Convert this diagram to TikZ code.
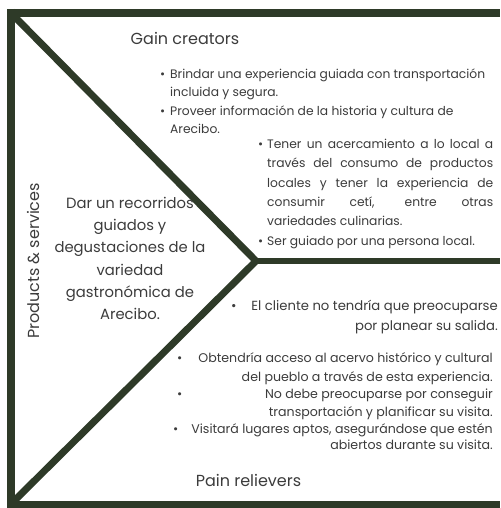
\documentclass[tikz,border=0pt]{standalone}
\usepackage{fontspec}
\setmainfont{Poppins}
\definecolor{frame}{HTML}{2E3A28}
\definecolor{txtgray}{HTML}{3C3C3C}
\begin{document}
\begin{tikzpicture}[x=1pt,y=-1pt,
  bar/.style={draw=frame,line width=#1,line cap=butt},
  txt/.style={text=txtgray,inner sep=0pt,anchor=base west,font=\fontsize{12.3}{14}\selectfont},
  txtr/.style={txt,anchor=base east},
  small/.style={font=\fontsize{12.6}{14}\selectfont},
  big/.style={font=\fontsize{13.2}{15}\selectfont},
  title/.style={text=txtgray,inner sep=0pt,anchor=base,font=\fontsize{16}{18}\selectfont},
  mid/.style={text=txtgray,inner sep=0pt,anchor=base,font=\fontsize{14.8}{17}\selectfont}]
\useasboundingbox[fill=white] (0,0) rectangle (500,508);
% frame
\draw[bar=8pt] (7,13) -- (500,13);
\draw[bar=8pt] (11,9) -- (11,508);
\draw[bar=7pt] (7,504.5) -- (500,504.5);
\draw[bar=7pt,line join=miter] (11,13) -- (256,261) -- (11,504);
\draw[bar=6pt] (254,261) -- (500,261);
% titles
\node[title] (gain) at (185,45) {Gain creators};
\node[title] (pain) at (248.5,486) {Pain relievers};
\node[title,rotate=90] (prod) at (39,261) {Products \& services};
% center text
\node[mid] (c1) at (130,208) {Dar un recorridos};
\node[mid] (c2) at (130,230) {guiados y};
\node[mid] (c3) at (130,252) {degustaciones de la};
\node[mid] (c4) at (130,275) {variedad};
\node[mid] (c5) at (130,297) {gastronómica de};
\node[mid] (c6) at (130,319) {Arecibo.};
% gain creators list 1
\node[txt] (g1b) at (160,78.5) {•};
\node[txt] (g1) at (170,78.5) {Brindar una experiencia guiada con transportación};
\node[txt] (g2) at (170,97) {incluida y segura.};
\node[txt] (g3b) at (160,115) {•};
\node[txt] (g3) at (170,115) {Proveer información de la historia y cultura de};
\node[txt] (g4) at (170,133) {Arecibo.};
% gain creators list 2
\node[txt] (h1b) at (258,148) {•};
\node[txt] (h1) at (267,148) {\makebox[226pt][s]{Tener un acercamiento a lo local a}};
\node[txt] (h2) at (267,167.5) {\makebox[226pt][s]{través del consumo de productos}};
\node[txt] (h3) at (267,187) {\makebox[226pt][s]{locales y tener la experiencia de}};
\node[txt] (h4) at (267,206) {\makebox[226pt][s]{consumir cetí, entre otras}};
\node[txt] (h5) at (267,225.5) {variedades culinarias.};
\node[txt] (h6b) at (258,245) {•};
\node[txt] (h6) at (267,245) {Ser guiado por una persona local.};
% pain relievers
\node[txt,big] (p1b) at (231,310) {•};
\node[txtr,big] (p1) at (498,310) {El cliente no tendría que preocuparse};
\node[txtr,big] (p2) at (498,330) {por planear su salida.};
\node[txt,small] (q1b) at (177,362) {•};
\node[txtr,small] (q1) at (493,362) {Obtendría acceso al acervo histórico y cultural};
\node[txtr,small] (q2) at (493,381) {del pueblo a través de esta experiencia.};
\node[txt,small] (q3b) at (177,398) {•};
\node[txtr,small] (q3) at (493,398) {No debe preocuparse por conseguir};
\node[txtr,small] (q4) at (493,416) {transportación y planificar su visita.};
\node[txt,small] (q5b) at (173,433) {•};
\node[txtr,small] (q5) at (493,433) {Visitará lugares aptos, asegurándose que estén};
\node[txtr,small] (q6) at (493,449) {abiertos durante su visita.};
\end{tikzpicture}
\end{document}
